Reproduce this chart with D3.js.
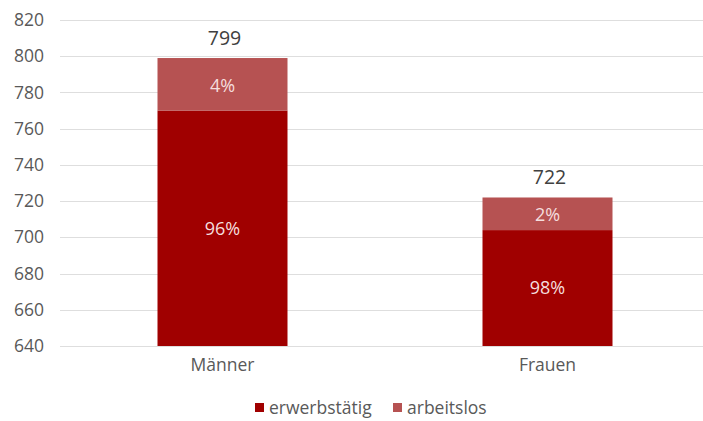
<!DOCTYPE html>
<html><head><meta charset="utf-8">
<script src="https://cdn.jsdelivr.net/npm/d3@7"></script>
<style>
body{margin:0;background:#fff;}
svg{display:block;font-family:"Open Sans","Noto Sans",sans-serif;}
</style></head>
<body><svg id="c" width="703" height="421"></svg>
<script>
const categories = ["Männer", "Frauen"];
const erwerbstaetig = [770, 704];
const arbeitslos = [29, 18];
const totals = [799, 722];
const pctErwerbstaetig = ["96%", "98%"];
const pctArbeitslos = ["4%", "2%"];
const yTicks = [640, 660, 680, 700, 720, 740, 760, 780, 800, 820];
const seriesNames = ["erwerbstätig", "arbeitslos"];
const colors = ["#a00000", "#b65252"];

const svg = d3.select("#c");
const W = 703;
const x = d3.scaleBand().domain(categories).range([60, 710]).paddingInner(0.6).paddingOuter(0.3);
const y = d3.scaleLinear().domain([640, 820]).range([346, 20]);

// gridlines
svg.append("g").selectAll("line").data(yTicks).join("line")
  .attr("x1", 60).attr("x2", W)
  .attr("y1", d => Math.round(y(d)) + 0.5).attr("y2", d => Math.round(y(d)) + 0.5)
  .attr("stroke", "#dedede").attr("stroke-width", 1.2);

// y axis labels
const yAxis = d3.axisLeft(y).tickValues(yTicks).tickSize(0).tickPadding(0);
const ya = svg.append("g").attr("transform", "translate(44,0)").call(yAxis);
ya.select(".domain").remove();
ya.selectAll("text").attr("font-size", 17.5).attr("fill", "#595959").attr("font-family", "'Open Sans','Noto Sans',sans-serif");

const data = categories.map((c, i) => ({c, e: erwerbstaetig[i], a: arbeitslos[i], t: totals[i], pe: pctErwerbstaetig[i], pa: pctArbeitslos[i]}));
const bw = x.bandwidth();

// bars
svg.append("g").selectAll("rect").data(data).join("rect")
  .attr("x", d => x(d.c)).attr("width", bw)
  .attr("y", d => y(d.e)).attr("height", d => y(640) - y(d.e))
  .attr("fill", colors[0]);
svg.append("g").selectAll("rect").data(data).join("rect")
  .attr("x", d => x(d.c)).attr("width", bw)
  .attr("y", d => y(d.e + d.a)).attr("height", d => y(d.e) - y(d.e + d.a))
  .attr("fill", colors[1]);

// percent labels
svg.append("g").selectAll("text").data(data).join("text")
  .attr("x", d => x(d.c) + bw / 2).attr("y", d => (y(d.e) + y(640)) / 2)
  .attr("dy", "0.35em").attr("text-anchor", "middle")
  .attr("font-size", 18).attr("fill", "#f5dede").text(d => d.pe);
svg.append("g").selectAll("text").data(data).join("text")
  .attr("x", d => x(d.c) + bw / 2).attr("y", d => (y(d.e) + y(d.e + d.a)) / 2 + 1)
  .attr("dy", "0.35em").attr("text-anchor", "middle")
  .attr("font-size", 18).attr("fill", "#f5dede").text(d => d.pa);

// totals
svg.append("g").selectAll("text").data(data).join("text")
  .attr("x", d => x(d.c) + bw / 2 + 2).attr("y", d => y(d.t) - 13)
  .attr("text-anchor", "middle")
  .attr("font-size", 19.5).attr("fill", "#404040").text(d => d.t);

// x axis labels
const xAxis = d3.axisBottom(x).tickSize(0).tickPadding(0);
const xa = svg.append("g").attr("transform", "translate(0,359)").call(xAxis);
xa.select(".domain").remove();
xa.selectAll("text").attr("font-size", 17.5).attr("fill", "#595959").attr("font-family", "'Open Sans','Noto Sans',sans-serif");

// legend
const legX = [255, 393];
const lg = svg.append("g").selectAll("g").data(seriesNames).join("g")
  .attr("transform", (d, i) => `translate(${legX[i]},403)`);
lg.append("rect").attr("width", 9).attr("height", 9).attr("fill", (d, i) => colors[i]);
lg.append("text").attr("x", 14).attr("y", 4.5).attr("dy", "0.35em")
  .attr("font-size", 17.5).attr("fill", "#595959").text(d => d);
</script></body></html>
